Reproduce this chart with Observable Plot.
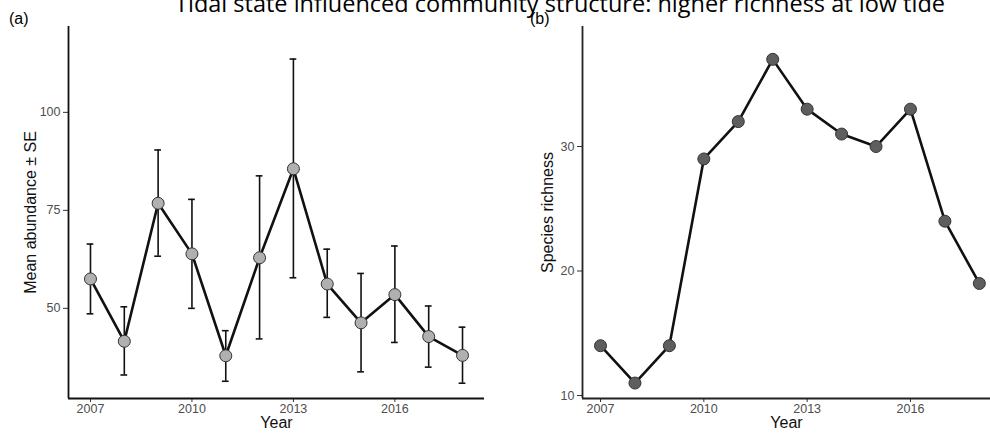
<!DOCTYPE html>
<html>
<head>
<meta charset="utf-8">
<script src="https://cdn.jsdelivr.net/npm/d3@7"></script>
<script src="https://cdn.jsdelivr.net/npm/@observablehq/plot@0.6"></script>
<style>
  html, body { margin: 0; padding: 0; background: #fff; }
  #wrap { position: relative; width: 990px; height: 434px; overflow: hidden; background: #fff; }
  #title { position: absolute; left: 0; width: 990px; top: -13px; text-align: center; padding-left: 130px; box-sizing: border-box;
           font-family: "Open Sans", sans-serif; font-size: 23.5px; color: #000; white-space: nowrap; }
  .tag { position: absolute; font-family: "Liberation Sans", Arial, sans-serif; font-size: 16px; color: #000; }
  #pa { position: absolute; left: 0; top: 0; }
  #pb { position: absolute; left: 500px; top: 0; }
</style>
</head>
<body>
<div id="wrap">
  <div id="pa"></div>
  <div id="pb"></div>
  <div id="title"></div>
  <div class="tag" id="taga" style="left:9px; top:10px;">(a)</div>
  <div class="tag" id="tagb" style="left:530px; top:10px;">(b)</div>
</div>
<script>
const titleText = "Tidal state influenced community structure: higher richness at low tide";
const years = [2007, 2008, 2009, 2010, 2011, 2012, 2013, 2014, 2015, 2016, 2017, 2018];
const meanAbundance = [57.5, 41.6, 76.8, 63.9, 37.9, 62.9, 85.6, 56.2, 46.3, 53.5, 42.8, 38.0];
const seUpper = [66.4, 50.4, 90.4, 77.8, 44.3, 83.8, 113.6, 65.1, 58.9, 65.9, 50.6, 45.2];
const seLower = [48.6, 33.0, 63.3, 50.0, 31.4, 42.2, 57.8, 47.7, 33.8, 41.3, 35.0, 30.9];
const richness = [14, 11, 14, 29, 32, 37, 33, 31, 30, 33, 24, 19];
const xTicks = [2007, 2010, 2013, 2016];
const yTicksA = [50, 75, 100];
const yTicksB = [10, 20, 30];

document.getElementById("title").textContent = titleText;

const dataA = years.map((y, i) => ({year: y, mean: meanAbundance[i], hi: seUpper[i], lo: seLower[i]}));
const dataB = years.map((y, i) => ({year: y, rich: richness[i]}));

const font = "Liberation Sans, Arial, sans-serif";
const capHalf = 0.1;

const plotA = Plot.plot({
  width: 500, height: 434,
  marginLeft: 68, marginRight: 16, marginTop: 26, marginBottom: 36,
  style: {fontFamily: font, background: "transparent"},
  x: {domain: [2006.35, 2018.65], axis: null},
  y: {domain: [27, 121.9], axis: null},
  marks: [
    Plot.ruleX(dataA, {x: "year", y1: "lo", y2: "hi", stroke: "#111", strokeWidth: 1.6}),
    Plot.ruleY(dataA, {y: "hi", x1: d => d.year - capHalf, x2: d => d.year + capHalf, stroke: "#111", strokeWidth: 1.6}),
    Plot.ruleY(dataA, {y: "lo", x1: d => d.year - capHalf, x2: d => d.year + capHalf, stroke: "#111", strokeWidth: 1.6}),
    Plot.line(dataA, {x: "year", y: "mean", stroke: "#111", strokeWidth: 2.6}),
    Plot.dot(dataA, {x: "year", y: "mean", r: 6, fill: "#b0b0b0", stroke: "#333", strokeWidth: 1}),
    Plot.axisX({ticks: xTicks, tickFormat: "d", tickSize: 4, tickPadding: 2, fontSize: 12.5, fill: "#4d4d4d", stroke: "#333", label: null}),
    Plot.axisY({ticks: yTicksA, tickSize: 5, tickPadding: 3, fontSize: 12.5, fill: "#4d4d4d", stroke: "#333", label: null}),
    Plot.ruleX([2006.35], {stroke: "#111", strokeWidth: 1.8}),
    Plot.ruleY([27], {stroke: "#111", strokeWidth: 1.8}),
    Plot.text(["Mean abundance ± SE"], {frameAnchor: "left", textAnchor: "middle", rotate: -90, dx: -38, fontSize: 16, fill: "#111"}),
    Plot.text(["Year"], {frameAnchor: "bottom", dy: 29, fontSize: 16, fill: "#111"})
  ]
});
document.getElementById("pa").appendChild(plotA);

const plotB = Plot.plot({
  width: 490, height: 434,
  marginLeft: 82, marginRight: 0, marginTop: 26, marginBottom: 36,
  style: {fontFamily: font, background: "transparent"},
  x: {domain: [2006.477, 2018.324], axis: null},
  y: {domain: [9.76, 39.64], axis: null},
  marks: [
    Plot.line(dataB, {x: "year", y: "rich", stroke: "#111", strokeWidth: 2.6}),
    Plot.dot(dataB, {x: "year", y: "rich", r: 6, fill: "#5e5e5e", stroke: "#333", strokeWidth: 1}),
    Plot.axisX({ticks: xTicks, tickFormat: "d", tickSize: 4, tickPadding: 2, fontSize: 12.5, fill: "#4d4d4d", stroke: "#333", label: null}),
    Plot.axisY({ticks: yTicksB, tickSize: 5, tickPadding: 3, fontSize: 12.5, fill: "#4d4d4d", stroke: "#333", label: null}),
    Plot.ruleX([2006.477], {stroke: "#222", strokeWidth: 1.8}),
    Plot.ruleY([9.76], {stroke: "#222", strokeWidth: 1.8}),
    Plot.text(["Species richness"], {frameAnchor: "left", textAnchor: "middle", rotate: -90, dx: -35, fontSize: 16, fill: "#111"}),
    Plot.text(["Year"], {frameAnchor: "bottom", dy: 29, fontSize: 16, fill: "#111"})
  ]
});
document.getElementById("pb").appendChild(plotB);
</script>
</body>
</html>
